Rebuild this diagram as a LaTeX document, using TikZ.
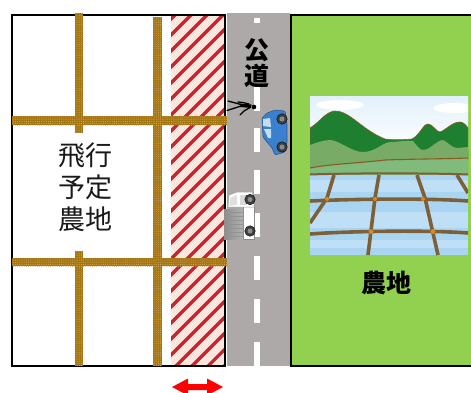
\documentclass[tikz,border=0pt]{standalone}
\usepackage{fontspec}
\newfontfamily\cjk{Noto Sans CJK JP}
\usetikzlibrary{patterns.meta}
\definecolor{rope}{HTML}{A67612}
\definecolor{ropeb}{HTML}{D0AE66}
\definecolor{road}{HTML}{ADA9A9}
\definecolor{grass}{HTML}{92D050}
\definecolor{stripe}{HTML}{C8242E}
\definecolor{hatchbg}{HTML}{FDE6DE}
\definecolor{carblue}{HTML}{3B80CE}
\definecolor{winblue}{HTML}{C5DDF2}
\definecolor{darkhill}{HTML}{1F7F30}
\definecolor{midhill}{HTML}{78AC66}
\definecolor{lowhill}{HTML}{80BA7C}
\definecolor{hillline}{HTML}{8A5A20}
\definecolor{water}{HTML}{A9D5F2}
\definecolor{bund}{HTML}{7D5F38}
\definecolor{bundjoint}{HTML}{D98A20}
\tikzset{
  ropebar/.style={fill=rope,draw=none,postaction={pattern={Dots[distance=2.2pt,radius=.5pt]},pattern color=ropeb}},
  dashline/.style={fill=white,draw=none},
  fieldtext/.style={font=\cjk\fontsize{27}{33}\selectfont,align=center,inner sep=0pt,text=black!90},
  boldtext/.style={font=\cjk\bfseries\fontsize{25}{25}\selectfont,inner sep=0pt,text=black},
  wheel/.style={circle,fill=black!75,draw=black,minimum size=10.5pt,inner sep=0pt},
  border/.style={draw=black,line width=2pt},
  bund line/.style={draw=bund,line width=3.6pt},
}
\begin{document}
\begin{tikzpicture}[x=1pt,y=-1pt]
\useasboundingbox (0,0) rectangle (471,392);
\fill[white] (0,0) rectangle (471,392);
% field, road, farmland
\fill[road] (227,13) rectangle (290,366);
\fill[grass] (291,14) rectangle (471,366);
% hatched strip
\fill[hatchbg] (171,15) rectangle (224,365);
\begin{scope}
\clip (171,15) rectangle (224,365);
\foreach \i in {0,...,28}{
  \draw[stripe,line width=3.2pt] (160,{30+\i*16}) -- (240,{-50+\i*16});
}
\end{scope}
% borders
\draw[border] (225,365.5) -- (12,365.5) -- (12,14.5) -- (225,14.5) -- cycle;
\draw[border] (471,14.5) -- (291,14.5) -- (291,365.5) -- (471,365.5);
% ropes
\fill[ropebar] (75,13) rectangle (83,133);
\fill[ropebar] (75,251) rectangle (83,366);
\fill[ropebar] (153,17) rectangle (162,366);
\fill[ropebar] (12,116) rectangle (227,125);
\fill[ropebar] (12,258) rectangle (227,266);
% road dashes
\foreach \y in {18,45,87,128,170,213,256,299,342}{
  \fill[dashline] (254,\y) rectangle (260,{\y+24});
}
\fill[road] (240,15) rectangle (275,17);
\fill[road] (240,23) rectangle (275,87);
% texts
\node[fieldtext] (field) at (85,187.5) {飛行\\[-1pt]予定\\[-1pt]農地};
\node[boldtext] (road1) at (257,50) {公};
\node[boldtext] (road2) at (257,76) {道};
\node[boldtext] (farm) at (386,283) {農地};
% person
\fill[black] (254,107) circle (2.3);
\fill[black] (251.5,104.5) -- (240,103.5) -- (240,107) -- (251,108) -- cycle;
\draw[black,line width=1.3pt,line cap=round] (241,104.5) -- (228,101)
  (241,106) -- (227,110.5)
  (250,107.5) -- (244,111) -- (240,115)
  (249,104) -- (243,102.5) -- (238,102);
% car
\fill[carblue,draw=carblue!70!black,line width=.6pt,rounded corners=1.2pt] (275,110) -- (285,111) -- (287,123) -- (287,143) -- (285,152) -- (275,155) -- (272,148) -- (263,137) -- (262,118) -- (267,113) -- cycle;
\fill[winblue] (263,119) -- (270,118) -- (271,127) -- (263,126) -- cycle;
\fill[winblue] (264,129) -- (271,129) -- (271,138) -- (268,138) -- cycle;
\node[wheel] (cw1) at (282,119) {};
\node[wheel] (cw2) at (282,147) {};
\fill[black!45] (cw1) circle (2.5) (cw2) circle (2.5);
% truck
\fill[white,draw=black!45,line width=.5pt] (243,205) rectangle (254,239);
\fill[white,draw=black!40,line width=.5pt] (229,195) -- (237,192) -- (252,192) -- (254,197) -- (254,207) -- (228,207) -- cycle;
\fill[black!12] (230,198) -- (237,195) -- (237,205) -- (229.5,206) -- cycle;
\fill[black!15] (240,195) -- (247,195) -- (247,205) -- (240,205) -- cycle;
\fill[left color=black!45,right color=black!30] (224,209) rectangle (243,239);
\foreach \y in {212,216,...,236}{\draw[black!42,line width=.4pt] (224,\y) -- (243,\y);}
\node[wheel] (tw1) at (250,199.5) {};
\node[wheel] (tw2) at (250,231) {};
\fill[black!45] (tw1) circle (2.5) (tw2) circle (2.5);
% landscape
\begin{scope}
\clip (310,96) rectangle (468,255);
\shade[top color=water!35!white,bottom color=white] (310,96) rectangle (468,150);
\fill[white] (340,105) ellipse (24 and 5) (455,108) ellipse (22 and 5);
\fill[darkhill,draw=hillline,line width=.6pt] (310,128) .. controls (320,122) and (325,112) .. (335,111)
 .. controls (350,111) and (362,130) .. (385,139)
 .. controls (392,140) and (400,140) .. (412,139)
 .. controls (420,135) and (423,124) .. (428,124)
 .. controls (433,124) and (436,132) .. (440,132)
 .. controls (446,130) and (452,122) .. (460,122)
 .. controls (463,122) and (466,125) .. (468,128)
 -- (468,160) -- (310,160) -- cycle;
\fill[midhill] (310,145) .. controls (318,142) and (325,140) .. (331,140)
 .. controls (342,142) and (352,152) .. (363,152)
 .. controls (375,152) and (382,143) .. (390,142)
 .. controls (400,142) and (405,140) .. (413,141)
 .. controls (417,146) and (420,150) .. (423,150)
 .. controls (430,150) and (437,140) .. (443,140)
 .. controls (448,142) and (452,148) .. (457,148)
 -- (468,147) -- (468,175) -- (310,175) -- cycle;
\fill[lowhill] (310,168) .. controls (330,164) and (360,163) .. (385,160)
 .. controls (410,159) and (440,159) .. (468,158)
 -- (468,176) -- (310,178) -- cycle;
\draw[hillline,line width=1.1pt] (310,168) .. controls (330,164) and (360,163) .. (385,160)
 .. controls (410,159) and (440,159) .. (468,158);
\fill[water] (310,175) rectangle (468,255);
\fill[white,opacity=.25] (310,180) rectangle (468,192);
\fill[white,opacity=.25] (310,212) rectangle (468,228);
\fill[white,opacity=.25] (310,240) rectangle (468,248);
\draw[bund,line width=2pt] (310,174.5) .. controls (350,173) and (430,173) .. (468,174.5);
\draw[bund line] (310,201) .. controls (350,199) and (430,198) .. (468,201);
\draw[bund line] (310,234) .. controls (350,231) and (430,230) .. (468,233);
\draw[bund line] (334,175) -- (327,198) -- (310,223);
\draw[bund line] (379,175) -- (375,198) -- (368,255);
\draw[bund line] (417,175) -- (425,198) -- (438,255);
\draw[bund line] (457,175) -- (468,193);
\fill[bundjoint] (327,199) circle (2) (375,199) circle (2) (423,199) circle (2)
  (371,231.5) circle (2.4) (433,231.5) circle (2.4);
\end{scope}
% width arrow
\begin{scope}
\clip (0,0) rectangle (471,392);
\fill[red] (172,387) -- (188,378.5) -- (188,384) -- (207,384) -- (207,378.5) -- (223,387) -- (207,395.5) -- (207,390) -- (188,390) -- (188,395.5) -- cycle;
\end{scope}
\end{tikzpicture}
\end{document}
